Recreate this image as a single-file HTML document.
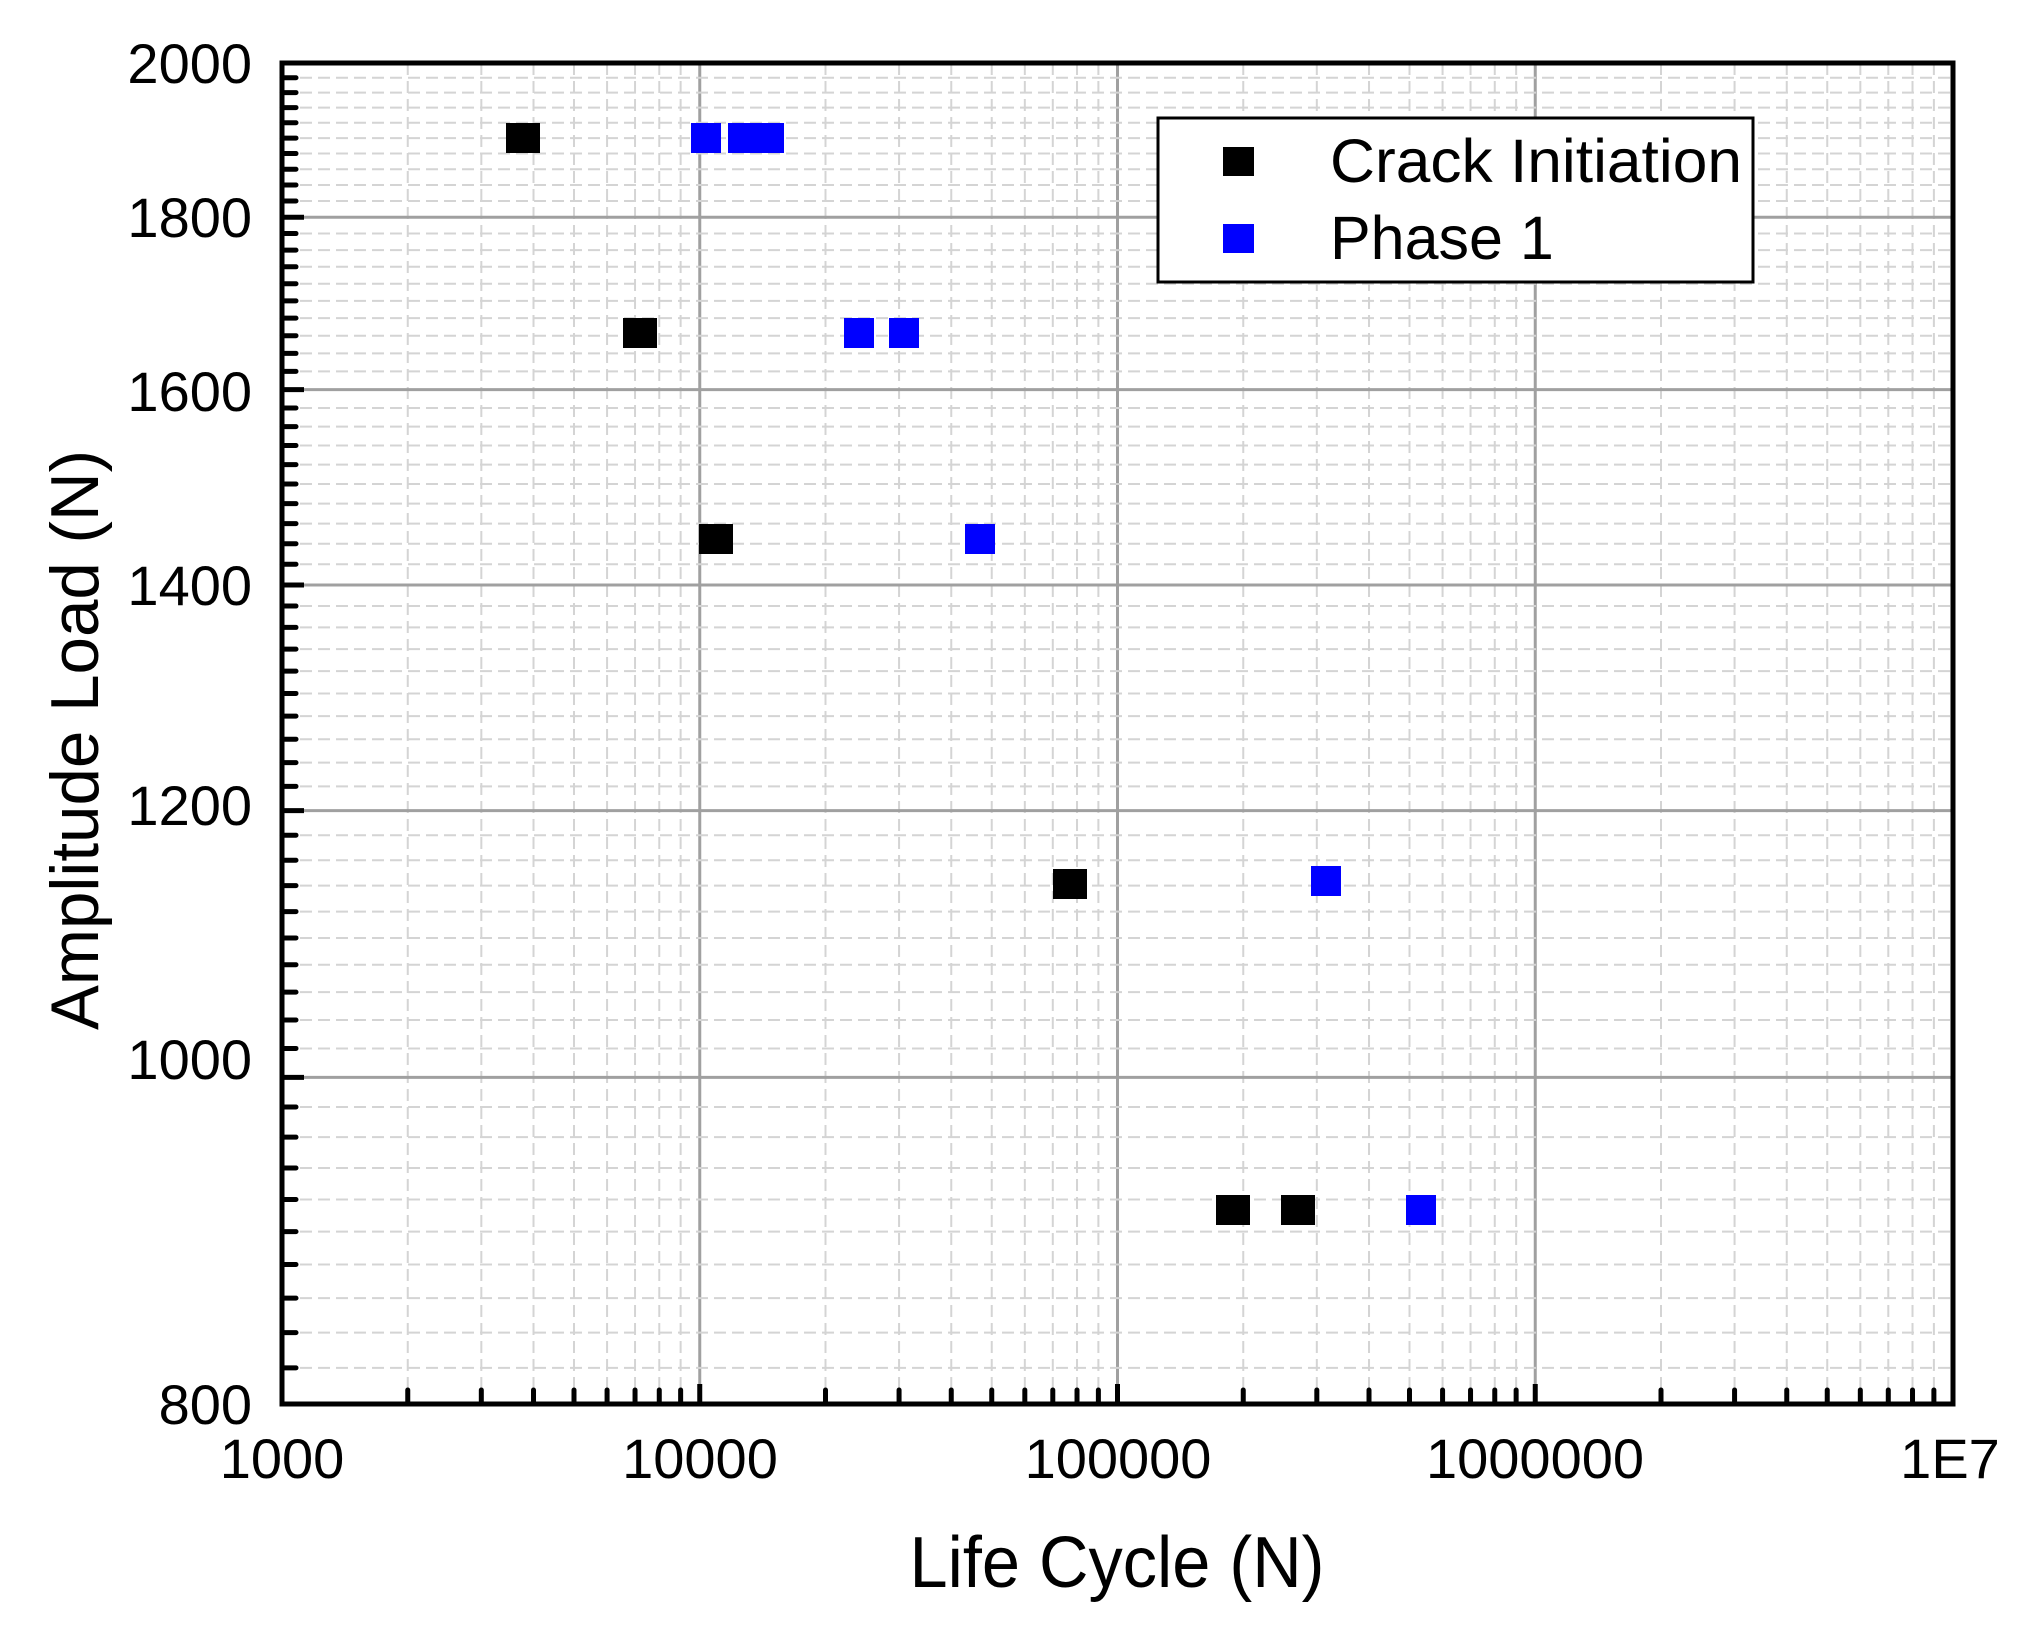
<!DOCTYPE html>
<html><head><meta charset="utf-8"><style>
html,body{margin:0;padding:0;background:#fff;}
svg{display:block;font-family:"Liberation Sans",Arial,sans-serif;}
</style></head><body>
<svg id="s" width="2042" height="1627" viewBox="0 0 2042 1627" xmlns="http://www.w3.org/2000/svg">
<rect width="2042" height="1627" fill="#fff"/>
<g id="grid"></g>
<g id="ticks"></g>
<rect x="282" y="63" width="1671" height="1341" fill="none" stroke="#000" stroke-width="5"/>
<g id="pts"></g>
<rect x="1158" y="118" width="595" height="164" fill="#fff" stroke="#000" stroke-width="3"/>
<rect x="1223" y="147" width="31" height="29" fill="#000"/>
<rect x="1223" y="224" width="31" height="29" fill="#0000ff"/>
<text x="1330" y="182" font-size="61" textLength="412" lengthAdjust="spacingAndGlyphs">Crack Initiation</text>
<text x="1330" y="259" font-size="61">Phase 1</text>
<g font-size="56" text-anchor="end">
<text x="252" y="83">2000</text>
<text x="252" y="237">1800</text>
<text x="252" y="411">1600</text>
<text x="252" y="605">1400</text>
<text x="252" y="825">1200</text>
<text x="252" y="1079">1000</text>
<text x="252" y="1424">800</text>
</g>
<g font-size="56" text-anchor="middle">
<text x="282" y="1478">1000</text>
<text x="700" y="1478">10000</text>
<text x="1118" y="1478">100000</text>
<text x="1535" y="1478">1000000</text>
<text x="1950" y="1478">1E7</text>
</g>
<text x="1117" y="1587" font-size="72" text-anchor="middle" textLength="415" lengthAdjust="spacingAndGlyphs">Life Cycle (N)</text>
<text transform="translate(98,740) rotate(-90)" font-size="68" text-anchor="middle" textLength="580" lengthAdjust="spacingAndGlyphs">Amplitude Load (N)</text>
</svg>
<script>
(function(){
var NS="http://www.w3.org/2000/svg";
var L=282,R=1953,T=63,B=1404,dec=(R-L)/4;
function X(v){return L+dec*(Math.log10(v)-3);}
function Y(v){return T+(B-T)*Math.log10(2000/v)/Math.log10(2.5);}
function el(p,n,a){var e=document.createElementNS(NS,n);for(var k in a)e.setAttribute(k,a[k]);p.appendChild(e);return e;}
var g=document.getElementById('grid'),t=document.getElementById('ticks'),p=document.getElementById('pts');
for(var d=3;d<7;d++){for(var m=1;m<10;m++){var v=m*Math.pow(10,d),x=X(v);
 if(m==1){ if(d>3) el(g,'line',{x1:x,y1:T,x2:x,y2:B,stroke:'#a0a0a0','stroke-width':3});
   el(t,'line',{x1:x,y1:B,x2:x,y2:B-20,stroke:'#000','stroke-width':5});}
 else{el(g,'line',{x1:x,y1:T,x2:x,y2:B,stroke:'#d4d4d4','stroke-width':2,'stroke-dasharray':'12,6'});
   el(t,'line',{x1:x,y1:B,x2:x,y2:B-14,stroke:'#000','stroke-width':5,'stroke-linecap':'round'});}
}}
for(var v=820;v<2000;v+=20){var y=Y(v);
 if(v%200==0){el(g,'line',{x1:L,y1:y,x2:R,y2:y,stroke:'#a0a0a0','stroke-width':3});
   el(t,'line',{x1:L,y1:y,x2:L+22,y2:y,stroke:'#000','stroke-width':5});}
 else{el(g,'line',{x1:L,y1:y,x2:R,y2:y,stroke:'#d4d4d4','stroke-width':2,'stroke-dasharray':'12,6'});
   el(t,'line',{x1:L,y1:y,x2:L+14,y2:y,stroke:'#000','stroke-width':5,'stroke-linecap':'round'});}
}
var blk=[[523,138],[640,333],[716,539],[1070,884],[1233,1210],[1298,1210]];
var blu=[[706,138],[743,138],[769,138],[859,333],[904,333],[980,539],[1326,881],[1421,1210]];
blk.forEach(function(c){el(p,'rect',{x:c[0]-17,y:c[1]-15,width:34,height:30,fill:'#000'});});
blu.forEach(function(c){el(p,'rect',{x:c[0]-15,y:c[1]-15,width:30,height:30,fill:'#0000ff'});});
})();
</script>
</body></html>
